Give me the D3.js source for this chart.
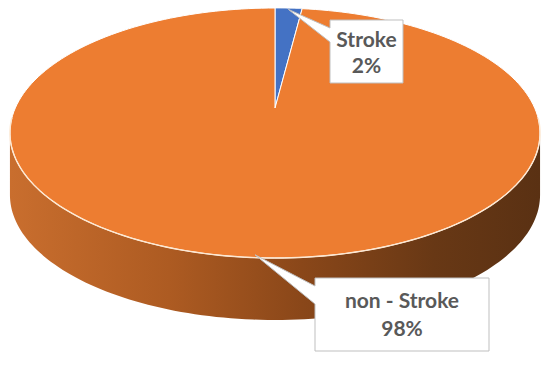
<!DOCTYPE html>
<html><head><meta charset="utf-8">
<script src="https://cdn.jsdelivr.net/npm/d3@7"></script>
<style>html,body{margin:0;padding:0;background:#fff;}svg{display:block;}</style>
</head><body>
<script>
const categories = ["Stroke", "non - Stroke"];
const values = [2, 98];
const percentLabels = ["2%", "98%"];
const colors = ["#4472C4", "#ED7D31"];

const W = 550, H = 367;
const svg = d3.select("body").append("svg").attr("width", W).attr("height", H);

// perspective projection of a tilted disc
const x0 = 275, y0 = 108, A = 259.7, B = 120, P = 0.2, depth = 62;
function proj(theta, s = 1, dy = 0) {
  const u = s * Math.sin(theta), v = s * Math.cos(theta);
  const k = 1 + P * v;
  return [x0 + A * u / k, y0 + dy - B * v / k];
}
function rim(a0, a1, dy = 0, n = 120) {
  const pts = [];
  for (let i = 0; i <= n; i++) pts.push(proj(a0 + (a1 - a0) * i / n, 1, dy));
  return pts;
}

const pie = d3.pie().sort(null).value(d => d)(values);
const line = d3.line();

const defs = svg.append("defs");
const grad = defs.append("linearGradient").attr("id", "side")
  .attr("gradientUnits", "userSpaceOnUse").attr("x1", 10).attr("x2", 540).attr("y1", 0).attr("y2", 0);
[[0, "#c96e2e"], [0.3, "#ad5b22"], [0.55, "#8a4719"], [0.8, "#683815"], [1, "#5a3113"]]
  .forEach(([o, c]) => grad.append("stop").attr("offset", o).attr("stop-color", c));

// side wall (visible front part, inside the large slice)
const tR = Math.acos(-P), tL = 2 * Math.PI - Math.acos(-P);
const sidePts = rim(tR, tL).concat(rim(tL, tR, depth));
svg.append("path").attr("d", line(sidePts) + "Z").attr("fill", "url(#side)");

// top face slices
pie.forEach((d, i) => {
  const pts = [proj(0, 0)].concat(rim(d.startAngle, d.endAngle, 0, 200));
  svg.append("path").attr("d", line(pts) + "Z")
    .attr("fill", colors[i]).attr("stroke", "#ffffff").attr("stroke-width", 1)
    .attr("stroke-linejoin", "round");
});

// rim highlight on the front edge
svg.append("path").attr("d", line(rim(tR - 0.12, tL + 0.12)))
  .attr("fill", "none").attr("stroke", "#fde8d2").attr("stroke-width", 1.4);

// callouts
const boxes = [
  {x: 330, y: 20, w: 73, h: 63, a0: 8, a1: 22, lines: [47, 73]},
  {x: 315, y: 278, w: 174, h: 73, a0: 8, a1: 26, lines: [308, 336]}
];
pie.forEach((d, i) => {
  const b = boxes[i];
  const mid = (d.startAngle + d.endAngle) / 2;
  const tip = proj(mid, 0.985);
  const path = `M${b.x},${b.y}H${b.x + b.w}V${b.y + b.h}H${b.x}V${b.y + b.a1}L${tip[0]},${tip[1]}L${b.x},${b.y + b.a0}Z`;
  svg.append("path").attr("d", path).attr("fill", "#ffffff")
    .attr("stroke", "#bfbfbf").attr("stroke-width", 1).attr("stroke-linejoin", "miter");
  const cx = b.x + b.w / 2;
  [categories[i], percentLabels[i]].forEach((t, j) => {
    svg.append("text").attr("x", cx).attr("y", b.lines[j])
      .attr("text-anchor", "middle")
      .attr("font-family", "Lato, 'Open Sans', sans-serif")
      .attr("font-weight", "bold").attr("font-size", 21)
      .attr("fill", "#595959").text(t);
  });
});
</script>
</body></html>
